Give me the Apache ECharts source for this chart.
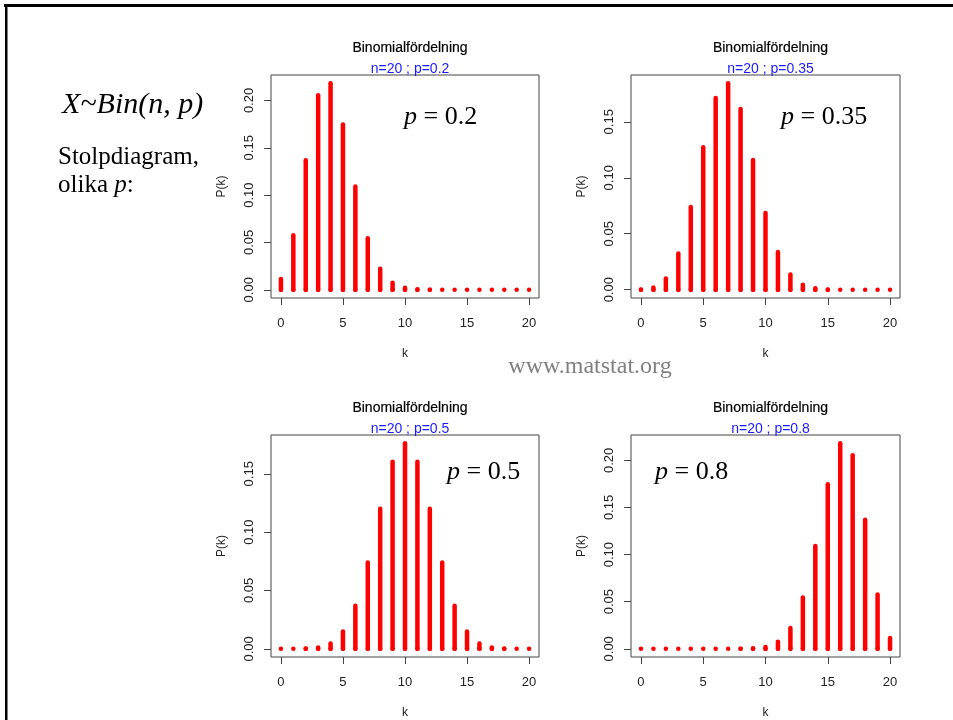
<!DOCTYPE html>
<html>
<head>
<meta charset="utf-8">
<script src="https://cdn.jsdelivr.net/npm/echarts@6/dist/echarts.min.js"></script>
<style>
  html, body { margin: 0; padding: 0; background: #fff; }
  #main { width: 953px; height: 720px; }
</style>
</head>
<body>
<div id="main"></div>
<script>
// k = 0..20
var kValues = [0, 1, 2, 3, 4, 5, 6, 7, 8, 9, 10, 11, 12, 13, 14, 15, 16, 17, 18, 19, 20];
var xTicks = [0, 5, 10, 15, 20];

// P(k) läst ur bilden, n = 20
var probP02 = [0.0115, 0.0576, 0.1369, 0.2054, 0.2182, 0.1746, 0.1091, 0.0545, 0.0222, 0.0074,
  0.0020, 0.0005, 0.0001, 0.0000, 0.0000, 0.0000, 0.0000, 0.0000, 0.0000, 0.0000, 0.0000];
var probP035 = [0.0002, 0.0020, 0.0100, 0.0323, 0.0738, 0.1272, 0.1712, 0.1844, 0.1614, 0.1158,
  0.0686, 0.0336, 0.0136, 0.0045, 0.0012, 0.0003, 0.0000, 0.0000, 0.0000, 0.0000, 0.0000];
var probP05 = [0.0000, 0.0000, 0.0002, 0.0011, 0.0046, 0.0148, 0.0370, 0.0739, 0.1201, 0.1602,
  0.1762, 0.1602, 0.1201, 0.0739, 0.0370, 0.0148, 0.0046, 0.0011, 0.0002, 0.0000, 0.0000];
var probP08 = [0.0000, 0.0000, 0.0000, 0.0000, 0.0000, 0.0000, 0.0000, 0.0000, 0.0001, 0.0005,
  0.0020, 0.0074, 0.0222, 0.0545, 0.1091, 0.1746, 0.2182, 0.2054, 0.1369, 0.0576, 0.0115];

var subTitles = ['n=20 ; p=0.2', 'n=20 ; p=0.35', 'n=20 ; p=0.5', 'n=20 ; p=0.8'];
var pLabels = ['0.2', '0.35', '0.5', '0.8'];
var yTicks = [
  [0, 0.05, 0.10, 0.15, 0.20],
  [0, 0.05, 0.10, 0.15],
  [0, 0.05, 0.10, 0.15],
  [0, 0.05, 0.10, 0.15, 0.20]
];

var allProbs = [probP02, probP035, probP05, probP08];

// paneler: plottytans läge i pixlar
var panels = [
  { left: 271, top: 75, width: 268, height: 223, yMin: -0.0087, yMax: 0.2269 },
  { left: 631, top: 75, width: 269, height: 223, yMin: -0.0074, yMax: 0.1918 },
  { left: 271, top: 435, width: 268, height: 223, yMin: -0.0070, yMax: 0.1832 },
  { left: 631, top: 435, width: 269, height: 223, yMin: -0.0087, yMax: 0.2269 }
];
var pLabelPos = [[404, 117], [781, 117], [447, 472], [655, 472]];

var sansFont = '"Liberation Sans", Arial, sans-serif';
var serifFont = '"Liberation Serif", "DejaVu Serif", serif';

function renderStick(params, api) {
  var top = api.coord([api.value(0), api.value(1)]);
  var base = api.coord([api.value(0), 0]);
  return {
    type: 'group',
    children: [
      {
        type: 'line',
        shape: { x1: base[0], y1: base[1], x2: top[0], y2: top[1] },
        style: { stroke: '#ff0000', lineWidth: 4.5, lineCap: 'round' }
      },
      {
        type: 'circle',
        shape: { cx: base[0], cy: base[1], r: 2.25 },
        style: { fill: '#ff0000' }
      }
    ]
  };
}

var chart = echarts.init(document.getElementById('main'));

var grids = [], xAxes = [], yAxes = [], series = [], titles = [];
panels.forEach(function (pn, i) {
  grids.push({
    left: pn.left, top: pn.top, width: pn.width, height: pn.height,
    show: true, borderColor: '#444', borderWidth: 1, backgroundColor: 'transparent'
  });
  xAxes.push({
    type: 'value', gridIndex: i, min: -0.8, max: 20.8, position: 'bottom',
    name: 'k', nameLocation: 'middle', nameGap: 50,
    nameTextStyle: { fontFamily: sansFont, fontSize: 12, color: '#222' },
    axisLine: { show: false, onZero: false },
    axisTick: { show: true, inside: false, length: 7, customValues: xTicks, lineStyle: { color: '#444' } },
    axisLabel: { customValues: xTicks, margin: 19, fontFamily: sansFont, fontSize: 13, color: '#222' },
    splitLine: { show: false }
  });
  yAxes.push({
    type: 'value', gridIndex: i, min: pn.yMin, max: pn.yMax, position: 'left',
    name: 'P(k)', nameLocation: 'middle', nameGap: 43,
    nameTextStyle: { fontFamily: sansFont, fontSize: 12, color: '#222' },
    axisLine: { show: false, onZero: false },
    axisTick: { show: true, inside: false, length: 7, customValues: yTicks[i], lineStyle: { color: '#444' } },
    axisLabel: {
      customValues: yTicks[i], rotate: 90, margin: 15,
      fontFamily: sansFont, fontSize: 13, color: '#222',
      formatter: function (v) { return v.toFixed(2); }
    },
    splitLine: { show: false }
  });
  series.push({
    type: 'custom', xAxisIndex: i, yAxisIndex: i,
    renderItem: renderStick,
    data: kValues.map(function (k, j) { return [k, allProbs[i][j]]; }),
    silent: true
  });
  titles.push({
    text: 'Binomialfördelning', subtext: subTitles[i],
    left: pn.left + pn.width / 2, top: i < 2 ? 36 : 396, textAlign: 'center', itemGap: 7,
    textStyle: { fontFamily: sansFont, fontSize: 14, fontWeight: 'normal', color: '#000', textBorderColor: '#000', textBorderWidth: 0.2 },
    subtextStyle: { fontFamily: sansFont, fontSize: 14, color: '#1a1aff' }
  });
});

var graphics = [
  // svart ram uppe och till vänster
  { type: 'rect', shape: { x: 4, y: 4, width: 949, height: 3 }, style: { fill: '#000' } },
  { type: 'rect', shape: { x: 5, y: 4, width: 2.5, height: 716 }, style: { fill: '#000' } },
  {
    type: 'text', x: 62, y: 105,
    style: { text: 'X~Bin(n, p)', font: 'italic 30px ' + serifFont, fill: '#000', verticalAlign: 'middle' }
  },
  {
    type: 'text', x: 58, y: 157,
    style: { text: 'Stolpdiagram,', font: '25px ' + serifFont, fill: '#000', verticalAlign: 'middle' }
  },
  {
    type: 'text', x: 58, y: 185,
    style: {
      text: 'olika {i|p}:', font: '25px ' + serifFont, fill: '#000', verticalAlign: 'middle',
      rich: { i: { fontStyle: 'italic', fontFamily: serifFont, fontSize: 25 } }
    }
  },
  {
    type: 'text', x: 590, y: 367,
    style: { text: 'www.matstat.org', font: '24px ' + serifFont, fill: '#808080', align: 'center', verticalAlign: 'middle' }
  }
];
pLabels.forEach(function (lbl, i) {
  graphics.push({
    type: 'text', x: pLabelPos[i][0], y: pLabelPos[i][1],
    style: {
      text: '{i|p} = ' + lbl, font: '26px ' + serifFont, fill: '#000', verticalAlign: 'middle',
      rich: { i: { fontStyle: 'italic', fontFamily: serifFont, fontSize: 26 } }
    }
  });
});

chart.setOption({
  backgroundColor: '#fff',
  animation: false,
  title: titles,
  grid: grids,
  xAxis: xAxes,
  yAxis: yAxes,
  series: series,
  graphic: graphics
});
</script>
</body>
</html>
